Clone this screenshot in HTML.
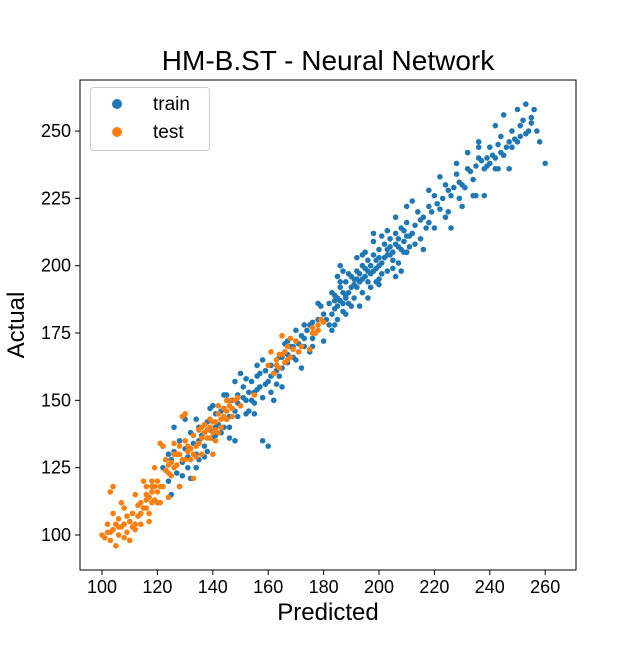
<!DOCTYPE html>
<html><head><meta charset="utf-8"><style>
body{margin:0;background:#fff;}
svg{font-family:"Liberation Sans",sans-serif;}
</style></head><body>
<svg id="chart" width="640" height="640">
<text x="328" y="70" text-anchor="middle" font-size="28">HM-B.ST - Neural Network</text>
<rect x="80" y="80" width="496" height="490" fill="none" stroke="#000" stroke-width="1"/>
<g id="xt"></g>
<g id="yt"></g>
<g id="pts"></g>
<text x="328" y="620" text-anchor="middle" font-size="24">Predicted</text>
<text x="0" y="0" transform="translate(24,325) rotate(-90)" text-anchor="middle" font-size="24">Actual</text>
<g>
<rect x="90.5" y="87.5" width="119" height="63" rx="3" fill="#fff" fill-opacity="0.8" stroke="#ccc"/>
<circle cx="117" cy="104" r="5" fill="#1f77b4"/>
<text x="153" y="110" font-size="19">train</text>
<circle cx="117" cy="132" r="5" fill="#ff7f0e"/>
<text x="153" y="138" font-size="19">test</text>
</g>
</svg>
<script>
const xTicks=[100,120,140,160,180,200,220,240,260];
const yTicks=[100,125,150,175,200,225,250];
const train=[122,125,124,120,125,128,126,131,127,123,128,135,129,127,130,132,131,129,132,138,133,134,134,130,135,140,136,137,137,133,138,142,139,139,140,136,141,145,142,141,143,138,144,147,145,143,146,140,147,150,148,146,149,152,150,148,151,155,152,150,153,146,154,157,155,153,156,159,157,155,158,151,159,161,160,157,161,163,162,160,163,156,164,166,165,162,166,168,167,164,168,170,169,166,170,172,171,168,172,174,173,170,174,176,158,135,160,133,175,178,176,173,178,180,180,182,182,186,183,190,184,184,185,188,186,192,187,186,188,194,189,190,190,196,191,188,192,198,193,194,194,200,195,196,196,202,197,192,198,204,199,199,200,206,201,201,202,208,203,198,204,210,205,205,206,212,207,207,208,214,209,209,210,216,212,212,214,220,216,218,218,222,220,226,222,221,224,230,226,226,228,234,230,230,232,236,234,232,236,240,238,236,240,244,242,240,244,248,246,244,248,250,250,246,252,254,254,250,256,258,258,246,260,238,247,236,238,226,230,222,226,214,212,224,216,206,198,212,186,200,180,172,185,180,190,185,194,190,200,195,205,199,210,205,215,210,185,196,188,182,195,205,203,213,193,185,183,176,178,186,172,162,150,160,145,152,140,148,135,128,132,121,128,118,125,115,126,140,130,143,148,135,155,145,165,155,175,168,242,252,245,256,250,258,253,260,255,255,236,244,232,242,228,238,222,233,218,228,210,222,206,218,204,204,200,200,196,198,192,192,188,188,184,187,181,180,177,175,200,193,198,209,207,201,213,208,220,214,225,220,234,226,240,238,244,242,248,244,236,246,239,240,243,236,251,248,122,133,127,130,131,125,134,143,137,129,141,137,144,152,146,136,149,144,152,158,155,149,158,165,161,153,164,159,167,172,170,165,173,178,176,170,179,185,182,178,186,194,189,197,192,203,196,188,199,194,203,206,206,196,209,213,211,211,197,197,191,195,187,190,183,182,
135,135,138,131,141,140,143,146,146,144,149,149,151,151,153,153,154,150,156,154,157,160,159,156,161,159,163,161,165,166,167,167,169,170,171,171,173,173,176,179,184,189,185,185,186,187,187,183,188,189,189,186,190,192,191,193,192,195,193,197,194,195,195,199,196,194,197,200,198,198,199,202,200,203,201,197,202,203,203,204,204,207,205,202,206,208,207,210,208,206,209,205,210,211,211,207,213,215,215,217,217,214,219,220,221,223,223,225,225,228,227,229,229,231,231,229,233,235,235,237,237,239,239,237,241,241,243,245,245,241,247,246,249,247,251,252,253,249,255,253,257,250,242,236,235,226,229,225,184,178,187,198,194,204,201,211,208,198,218,216,224,218,156,163,152,145,162,150,166,171,170,176,148,157,144,140,139,147,134,125,129,122,124,130];
const test=[100,100,101,99,102,101,103,98,104,102,105,96,106,100,104,108,106,106,108,104,110,105,111,108,112,102,113,107,114,112,115,110,116,115,117,108,118,118,119,113,120,116,121,112,103,116,104,118,107,112,115,120,116,118,118,120,120,120,122,118,123,124,124,114,125,127,126,130,127,126,128,133,129,128,130,135,131,131,132,128,133,137,134,133,135,139,136,130,137,141,138,136,139,143,140,138,141,135,142,145,143,140,144,147,145,143,146,148,147,144,148,150,122,133,121,134,125,122,130,145,129,144,133,121,140,130,112,104,109,101,108,110,117,105,119,125,162,160,163,165,164,162,165,167,166,164,167,170,168,166,161,168,170,172,172,170,160,163,165,174,168,173,176,177,177,175,178,178,179,180,175,169,171,168,128,118,110,98,113,111,116,113,118,112,124,123,127,130,131,133,134,129,138,139,141,142,146,150,150,148,155,152,142,148,145,150,
102,104,103,101,105,104,107,103,109,107,111,103,114,108,116,110,117,114,118,116,119,118,120,112,121,118,123,128,124,126,126,125,128,130,130,128,132,132,133,130,135,134,136,136,137,138,139,136,140,142,142,138,143,143,144,144,145,146,147,147,149,151,163,163,164,167,166,168,167,165,169,169,176,175,178,176,180,179,106,103,108,99,112,115,114,104,126,134,136,140,139,140,141,139];
const NS='http://www.w3.org/2000/svg';
const sx=v=>102+(v-100)*2.77;
const sy=v=>535-(v-100)*2.693;
const xt=document.getElementById('xt'),yt=document.getElementById('yt'),pts=document.getElementById('pts');
xTicks.forEach(t=>{
 const l=document.createElementNS(NS,'line');l.setAttribute('x1',sx(t));l.setAttribute('x2',sx(t));l.setAttribute('y1',570);l.setAttribute('y2',575);l.setAttribute('stroke','#000');
 
 
 xt.appendChild(l);
 const tx=document.createElementNS(NS,'text');tx.setAttribute('x',sx(t));tx.setAttribute('y',593);tx.setAttribute('text-anchor','middle');tx.setAttribute('font-size','18');tx.textContent=t;
 
 
 xt.appendChild(tx);
});
yTicks.forEach(t=>{
 const l=document.createElementNS(NS,'line');l.setAttribute('x1',75);l.setAttribute('x2',80);l.setAttribute('y1',sy(t));l.setAttribute('y2',sy(t));l.setAttribute('stroke','#000');
 
 
 yt.appendChild(l);
 const tx=document.createElementNS(NS,'text');tx.setAttribute('x',71);tx.setAttribute('y',sy(t)+6);tx.setAttribute('text-anchor','end');tx.setAttribute('font-size','18');tx.textContent=t;
 
 
 yt.appendChild(tx);
});
function draw(arr,color,name){
 for(let i=0;i<arr.length;i+=2){
  const c=document.createElementNS(NS,'circle');c.setAttribute('cx',sx(arr[i]));c.setAttribute('cy',sy(arr[i+1]));c.setAttribute('r',2.8);c.setAttribute('fill',color);
  
  
  pts.appendChild(c);
 }
}
draw(train,'#1f77b4','train-point');
draw(test,'#ff7f0e','test-point');
</script>
</body></html>
